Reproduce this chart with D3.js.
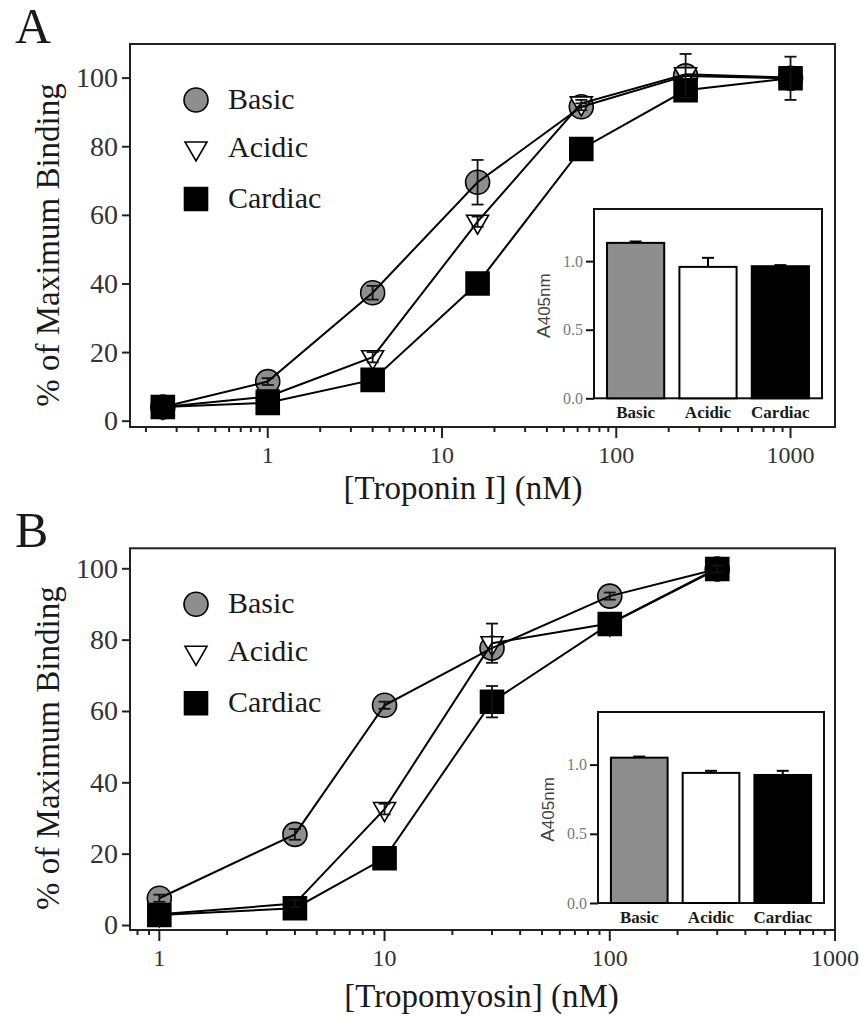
<!DOCTYPE html>
<html>
<head>
<meta charset="utf-8">
<script src="https://cdn.jsdelivr.net/npm/d3@7"></script>
<style>
  html, body { margin: 0; padding: 0; background: #fff; }
  svg { display: block; }
</style>
</head>
<body>
<svg id="chart" width="859" height="1016"></svg>
<script>
// ---------------- DATA ----------------
const seriesNames = ["Basic", "Acidic", "Cardiac"];

// Panel A: Troponin I
const concA = [0.25, 1, 4, 16, 63, 250, 1000];
const basicA = [4, 11.4, 37.3, 69.5, 91.5, 100.5, 99.8];
const acidicA = [4, 7, 18.5, 58, 92.5, 101, 100];
const cardiacA = [4, 5.2, 11.9, 40, 79.2, 96.3, 99.8];
const basicErrA = [0, 1, 2, 6.5, 1, 6.4, 0];
const acidicErrA = [0, 0, 1.5, 1.5, 1, 0, 0];
const cardiacErrA = [0, 0, 0, 0, 0, 0, 6.3];

// Panel B: Tropomyosin
const concB = [1, 4, 10, 30, 100, 300];
const basicB = [7.5, 25.4, 61.6, 77.6, 92.2, 99.8];
const acidicB = [3, 6, 32.5, 79, 84.5, 100];
const cardiacB = [2.8, 4.7, 18.7, 62.6, 84.4, 99.8];
const basicErrB = [1, 1.5, 1, 0, 1, 0];
const acidicErrB = [0, 1, 1.5, 5.5, 0, 0];
const cardiacErrB = [0, 0, 0, 4.4, 0, 1];

// Insets (A405nm)
const insetCats = ["Basic", "Acidic", "Cardiac"];
const insetA = [1.133, 0.958, 0.963];
const insetErrA = [0.01, 0.066, 0.008];
const insetB = [1.05, 0.94, 0.925];
const insetErrB = [0.008, 0.015, 0.03];

const yTicksMain = [0, 20, 40, 60, 80, 100];
const yTicksInset = [0, 0.5, 1.0];
const xTickLabels = [1, 10, 100, 1000];

// ---------------- STYLE ----------------
const SERIF = "'Liberation Serif', 'Times New Roman', serif";
const SANS = "'Liberation Sans', Arial, sans-serif";
const INK = "#1a1a1a";
const GREY = "#8e8e8e";
const fills = { Basic: GREY, Acidic: "#fff", Cardiac: "#000" };
const shapes = { Basic: "circle", Acidic: "triangle", Cardiac: "square" };

const svg = d3.select("#chart");

function markerPath(shape) {
  const p = d3.path();
  if (shape === "circle") {
    p.arc(0, 0, 12, 0, 2 * Math.PI);
  } else if (shape === "square") {
    p.rect(-11.5, -11.5, 23, 23);
  } else {
    p.moveTo(-11, -6.5); p.lineTo(11, -6.5); p.lineTo(0, 12.5); p.closePath();
  }
  return p.toString();
}

function drawMarker(g, shape, name, x, y) {
  g.append("path")
    .attr("d", markerPath(shape))
    .attr("transform", `translate(${x},${y})`)
    .attr("fill", fills[name])
    .attr("stroke", "#000")
    .attr("stroke-width", 1.6);
}

function drawPanel(cfg) {
  const g = svg.append("g");
  const { x0, x1, y0, y1 } = cfg.frame;
  const x = d3.scaleLog().domain(cfg.xDomain).range([x0, x1]);
  const y = d3.scaleLinear().domain(cfg.yDomain).range([y1, y0]);

  // panel letter
  g.append("text").attr("x", 15).attr("y", cfg.letterY)
    .attr("font-family", SERIF).attr("font-size", 50).attr("fill", INK)
    .text(cfg.letter);

  // frame
  g.append("rect").attr("x", x0).attr("y", y0)
    .attr("width", x1 - x0).attr("height", y1 - y0)
    .attr("fill", "none").attr("stroke", "#222").attr("stroke-width", 2);

  // y axis
  const yAxis = d3.axisLeft(y).tickValues(yTicksMain).tickSize(8).tickPadding(4)
    .tickFormat(d3.format("d"));
  const ya = g.append("g").attr("transform", `translate(${x0},0)`).call(yAxis);
  ya.select(".domain").remove();
  ya.selectAll("line").attr("stroke", "#222").attr("stroke-width", 2);
  ya.selectAll("text").attr("font-family", SERIF).attr("font-size", 28).attr("fill", "#333");

  // x axis (log, with minor ticks)
  const allTicks = x.ticks();
  const isMajor = d => Math.abs(Math.log10(d) - Math.round(Math.log10(d))) < 1e-9;
  const xa = g.append("g").attr("transform", `translate(0,${y1})`);
  xa.selectAll("line.tk").data(allTicks).join("line")
    .attr("class", "tk")
    .attr("x1", d => x(d)).attr("x2", d => x(d))
    .attr("y1", 0).attr("y2", d => isMajor(d) ? 11 : 5)
    .attr("stroke", "#222").attr("stroke-width", 2);
  xa.selectAll("text").data(xTickLabels.filter(d => d >= cfg.xDomain[0] && d <= cfg.xDomain[1] * 1.0001)).join("text")
    .attr("x", d => x(d)).attr("y", 36)
    .attr("text-anchor", "middle")
    .attr("font-family", SERIF).attr("font-size", 24).attr("fill", "#333")
    .text(d => d);

  // axis titles
  g.append("text").attr("x", cfg.xTitleX).attr("y", cfg.xTitleY)
    .attr("text-anchor", "middle").attr("font-family", SERIF).attr("font-size", 33)
    .attr("fill", INK).text(cfg.xTitle);
  g.append("text")
    .attr("transform", `translate(59,${(y0 + y1) / 2 + cfg.yTitleShift}) rotate(-90)`)
    .attr("text-anchor", "middle").attr("font-family", SERIF).attr("font-size", 33)
    .attr("fill", INK).text("% of Maximum Binding");

  // legend
  const legOff = [56, 104.5, 155];
  seriesNames.forEach((name, i) => {
    drawMarker(g, shapes[name], name, 196, y0 + legOff[i]);
    g.append("text").attr("x", 228).attr("y", y0 + legOff[i] + 8.5)
      .attr("font-family", SERIF).attr("font-size", 30).attr("fill", INK).text(name);
  });

  // inset
  const ins = cfg.inset;
  const bx = d3.scaleBand().domain(insetCats).range([ins.x0, ins.x1])
    .paddingInner(0.21).paddingOuter(0.18);
  const by = d3.scaleLinear().domain([0, 1.38]).range([ins.y1, ins.y0]);
  const ig = g.append("g");
  ig.append("rect").attr("x", ins.x0).attr("y", ins.y0)
    .attr("width", ins.x1 - ins.x0).attr("height", ins.y1 - ins.y0)
    .attr("fill", "#fff").attr("stroke", "#111").attr("stroke-width", 2);
  ig.selectAll("rect.bar").data(ins.values).join("rect")
    .attr("class", "bar")
    .attr("x", (d, i) => bx(insetCats[i]))
    .attr("width", bx.bandwidth())
    .attr("y", d => by(d))
    .attr("height", d => by(0) - by(d))
    .attr("fill", (d, i) => fills[insetCats[i]])
    .attr("stroke", "#000").attr("stroke-width", 2);
  ins.values.forEach((v, i) => {
    const cx = bx(insetCats[i]) + bx.bandwidth() / 2;
    const e = ins.errs[i];
    ig.append("line").attr("x1", cx).attr("x2", cx)
      .attr("y1", by(v)).attr("y2", by(v + e)).attr("stroke", "#000").attr("stroke-width", 2);
    ig.append("line").attr("x1", cx - 6).attr("x2", cx + 6)
      .attr("y1", by(v + e)).attr("y2", by(v + e)).attr("stroke", "#000").attr("stroke-width", 2);
    ig.append("text").attr("x", cx).attr("y", ins.y1 + 20)
      .attr("text-anchor", "middle").attr("font-family", SERIF).attr("font-weight", "bold")
      .attr("font-size", 17).attr("fill", INK).text(insetCats[i]);
  });
  const iy = ig.append("g").attr("transform", `translate(${ins.x0},0)`)
    .call(d3.axisLeft(by).tickValues(yTicksInset).tickSize(8).tickPadding(3).tickFormat(d3.format(".1f")));
  iy.select(".domain").remove();
  iy.selectAll("line").attr("stroke", "#111").attr("stroke-width", 2);
  iy.selectAll("text").attr("font-family", SERIF).attr("font-size", 16).attr("fill", "#777");
  const lab = ig.append("text")
    .attr("transform", `translate(${ins.x0 - 44},${(ins.y0 + ins.y1) / 2 + 2}) rotate(-90)`)
    .attr("text-anchor", "middle")
    .style("font-family", SANS).style("font-size", "17px").attr("fill", "#444");
  lab.append("tspan").style("font-size", "19px").text("A");
  lab.append("tspan").style("font-size", "17px").text("405nm");

  // data: markers, then lines, then error bars
  const series = cfg.series;
  series.forEach(s => {
    s.vals.forEach((v, i) => drawMarker(g, shapes[s.name], s.name, x(cfg.conc[i]), y(v)));
  });
  const line = d3.line().x(d => x(d[0])).y(d => y(d[1]));
  series.forEach(s => {
    g.append("path").datum(cfg.conc.map((c, i) => [c, s.vals[i]]))
      .attr("d", line).attr("fill", "none").attr("stroke", "#000").attr("stroke-width", 2);
  });
  series.forEach(s => {
    s.vals.forEach((v, i) => {
      const e = s.errs[i];
      if (!e) return;
      const cx = x(cfg.conc[i]);
      g.append("line").attr("x1", cx).attr("x2", cx).attr("y1", y(v - e)).attr("y2", y(v + e))
        .attr("stroke", "#111").attr("stroke-width", 1.8);
      [v - e, v + e].forEach(t => {
        g.append("line").attr("x1", cx - 6).attr("x2", cx + 6).attr("y1", y(t)).attr("y2", y(t))
          .attr("stroke", "#111").attr("stroke-width", 1.8);
      });
    });
  });
}

drawPanel({
  letter: "A", letterY: 43,
  frame: { x0: 130, x1: 835, y0: 44, y1: 427 },
  xDomain: [0.162, 1800], yDomain: [-1.84, 109.8],
  xTitle: "[Troponin I] (nM)", xTitleX: 463, xTitleY: 499, yTitleShift: 9.5,
  conc: concA,
  series: [
    { name: "Basic", vals: basicA, errs: basicErrA },
    { name: "Acidic", vals: acidicA, errs: acidicErrA },
    { name: "Cardiac", vals: cardiacA, errs: cardiacErrA }
  ],
  inset: { x0: 594, x1: 822, y0: 209, y1: 398.3, values: insetA, errs: insetErrA }
});

drawPanel({
  letter: "B", letterY: 546.5,
  frame: { x0: 130, x1: 835, y0: 548.3, y1: 930 },
  xDomain: [0.741, 1000], yDomain: [-1.4, 105.6],
  xTitle: "[Tropomyosin] (nM)", xTitleX: 481.5, xTitleY: 1007, yTitleShift: 9,
  conc: concB,
  series: [
    { name: "Basic", vals: basicB, errs: basicErrB },
    { name: "Acidic", vals: acidicB, errs: acidicErrB },
    { name: "Cardiac", vals: cardiacB, errs: cardiacErrB }
  ],
  inset: { x0: 598, x1: 824, y0: 712, y1: 903, values: insetB, errs: insetErrB }
});
</script>
</body>
</html>
